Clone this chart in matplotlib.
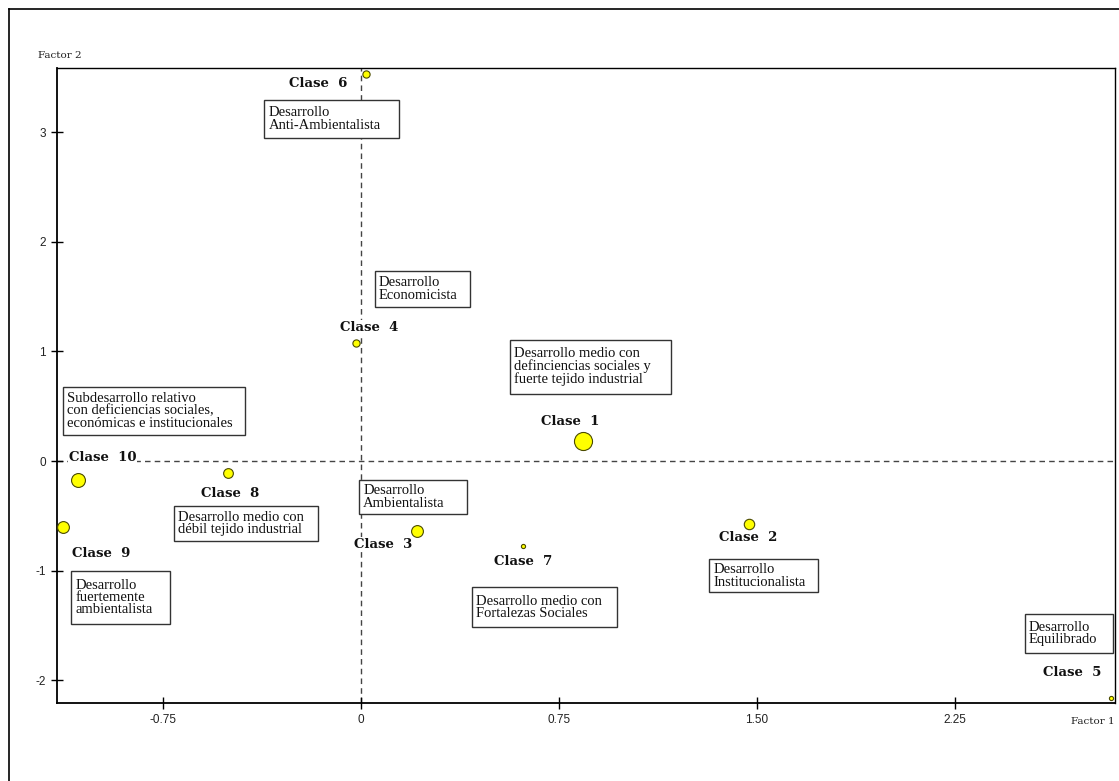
import matplotlib
matplotlib.use("Agg")
import matplotlib.pyplot as plt
from matplotlib.patches import Rectangle
from matplotlib.lines import Line2D

matplotlib.rcParams["axes.unicode_minus"] = False

# factor scores for each class
clases = ["Clase  1", "Clase  2", "Clase  3", "Clase  4", "Clase  5",
          "Clase  6", "Clase  7", "Clase  8", "Clase  9", "Clase  10"]
factor1 = [0.84, 1.47, 0.21, -0.02, 2.84, 0.02, 0.615, -0.505, -1.13, -1.073]
factor2 = [0.18, -0.575, -0.64, 1.08, -2.16, 3.53, -0.776, -0.107, -0.605, -0.173]
peso = [13, 7.5, 8.5, 5.2, 3.0, 5.2, 3.0, 7.0, 8.5, 10]   # marker size (pt)

# label offsets (points) relative to each point
label_off = [(-9, 14), (-1, -9.5), (-24, -9.5), (9.5, 11), (-28, 18),
             (-34.5, -6.5), (0, -11), (1.5, -15), (27.5, -19), (18, 16)]

# interpretation boxes: text, x0, x1, ytop, ybottom
box_text = ["Desarrollo\nAnti-Ambientalista",
            "Desarrollo\nEconomicista",
            "Desarrollo medio con\ndefinciencias sociales y\nfuerte tejido industrial",
            "Desarrollo\nAmbientalista",
            "Desarrollo medio con\nFortalezas Sociales",
            "Desarrollo\nInstitucionalista",
            "Desarrollo\nEquilibrado",
            "Subdesarrollo relativo\ncon deficiencias sociales,\neconómicas e institucionales",
            "Desarrollo medio con\ndébil tejido industrial",
            "Desarrollo\nfuertemente\nambientalista"]
box_x0 = [-0.367, 0.052, 0.563, -0.008, 0.420, 1.318, 2.514, -1.129, -0.708, -1.098]
box_x1 = [0.144, 0.413, 1.173, 0.400, 0.969, 1.731, 2.848, -0.439, -0.164, -0.723]
box_yt = [3.290, 1.736, 1.107, -0.171, -1.153, -0.898, -1.400, 0.675, -0.408, -1.001]
box_yb = [2.949, 1.401, 0.611, -0.484, -1.518, -1.199, -1.752, 0.240, -0.730, -1.487]

xticks = [-0.75, 0, 0.75, 1.50, 2.25]
xtick_labels = ["-0.75", "0", "0.75", "1.50", "2.25"]
yticks = [-2, -1, 0, 1, 2, 3]

W, H = 1119, 781
fig = plt.figure(figsize=(W / 100, H / 100), dpi=100)
ax = fig.add_axes([57 / W, 1 - 703 / H, (1115 - 57) / W, (703 - 68) / H])
ax.set_xlim(-1.152, 2.856)
ax.set_ylim(-2.208, 3.586)

# outer frame
fig.add_artist(Line2D([9 / W, 9 / W], [0, 1 - 9 / H], color="black", lw=1.2))
fig.add_artist(Line2D([9 / W, 1], [1 - 9 / H, 1 - 9 / H], color="black", lw=1.2))

ax.axhline(0, color="#444444", lw=1, ls=(0, (4, 3)), zorder=1)
ax.axvline(0, color="#444444", lw=1, ls=(0, (4, 3)), zorder=1)

for x0, x1, yt, yb, txt in zip(box_x0, box_x1, box_yt, box_yb, box_text):
    ax.add_patch(Rectangle((x0, yb), x1 - x0, yt - yb, facecolor="white",
                           edgecolor="#333333", lw=1, zorder=3, clip_on=False))
    ax.text(x0 + 0.016, (yt + yb) / 2, txt, ha="left", va="center",
            family="Liberation Serif", fontsize=10.5, linespacing=0.93,
            color="#111111", zorder=4)

for x, y, name, off in zip(factor1, factor2, clases, label_off):
    ax.annotate(name, (x, y), xytext=off, textcoords="offset points",
                ha="center", va="center", family="DejaVu Serif",
                fontweight="bold", fontsize=9.5, color="#111111", zorder=6,
                bbox=dict(boxstyle="square,pad=0.05", fc="white", ec="none"))

for x, y, s in zip(factor1, factor2, peso):
    ax.plot(x, y, "o", ms=s, mfc="#ffff00", mec="#4a4a00", mew=0.8,
            zorder=7, clip_on=False)

ax.set_xticks(xticks)
ax.set_xticklabels(xtick_labels)
ax.set_yticks(yticks)
ax.tick_params(direction="inout", length=8, width=1, labelsize=8.5,
               labelcolor="#222222", pad=4)
for lab in ax.get_xticklabels() + ax.get_yticklabels():
    lab.set_family("Liberation Sans")
for side in ["left", "bottom"]:
    ax.spines[side].set_linewidth(1.3)
for side in ["top", "right"]:
    ax.spines[side].set_linewidth(1)

fig.text(38 / W, 1 - 55 / H, "Factor 2", ha="left", va="center",
         family="DejaVu Serif", fontsize=7.5, color="#222222")
fig.text(1071 / W, 1 - 721 / H, "Factor 1", ha="left", va="center",
         family="DejaVu Serif", fontsize=7.5, color="#222222")

fig.savefig("out.png", dpi=100)
